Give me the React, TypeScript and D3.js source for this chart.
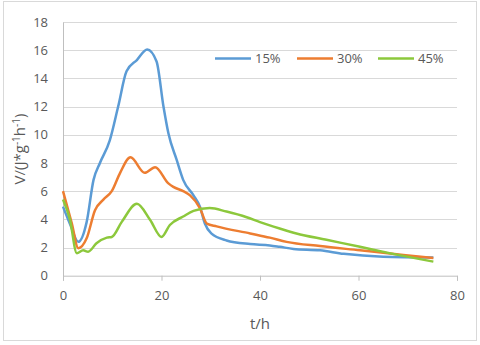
import React, { useEffect, useRef } from "react";
import * as d3 from "d3";

// hours and rates
const t15 = [0, 1.5, 3.1, 4.8, 6.2, 7.5, 9.5, 11.2, 12.9, 15, 17.1, 19, 20.4, 21.4, 23.1, 24.4, 26.5, 27.8, 28.8, 30.1, 33.2, 38, 42, 44, 46.8, 52.2, 57, 65, 75.2];
const v15 = [4.9, 3.6, 2.4, 3.8, 6.8, 8.0, 9.6, 12.0, 14.5, 15.3, 16.05, 15.2, 12.0, 10.1, 8.2, 6.8, 5.7, 4.9, 3.7, 3.0, 2.5, 2.25, 2.15, 2.05, 1.9, 1.8, 1.55, 1.35, 1.3];

const t30 = [0, 1.8, 3.1, 4.8, 6.5, 8.2, 9.9, 11.6, 13.7, 16.6, 18.7, 21.4, 22.4, 24.4, 25.8, 27.8, 29.2, 31.2, 38, 42, 45.4, 52.2, 60.3, 69.1, 75.2];
const v30 = [6.0, 3.7, 1.95, 2.65, 4.65, 5.4, 6.0, 7.3, 8.4, 7.3, 7.7, 6.55, 6.3, 6.0, 5.7, 4.8, 3.7, 3.5, 3.0, 2.7, 2.4, 2.1, 1.8, 1.47, 1.25];

const t45 = [0, 1.4, 2.8, 4.1, 5.1, 6.8, 8.9, 9.9, 11.9, 15, 17.7, 20, 21.7, 24.4, 26.5, 29.8, 33.2, 37.3, 40, 44, 47.4, 53.5, 60.3, 67, 75.2];
const v45 = [5.4, 4.0, 1.6, 1.8, 1.7, 2.3, 2.7, 2.75, 3.8, 5.1, 3.95, 2.75, 3.6, 4.2, 4.6, 4.8, 4.55, 4.15, 3.8, 3.35, 3.0, 2.55, 2.05, 1.55, 1.0];

const seriesNames = ["15%", "30%", "45%"];
const colors = ["#5b9bd5", "#ed7d31", "#8cc83c"];
const xTicks = [0, 20, 40, 60, 80];
const yTicks = [0, 2, 4, 6, 8, 10, 12, 14, 16, 18];

const W = 480;
const H = 345;
const font = "'Open Sans', sans-serif";

export default function App() {
  const ref = useRef<SVGSVGElement>(null);

  useEffect(() => {
    const svg = d3.select(ref.current);
    svg.selectAll("*").remove();

    const x = d3.scaleLinear().domain([0, 80]).range([63, 457]);
    const y = d3.scaleLinear().domain([0, 18]).range([275.7, 22]);

    // outer frame
    svg.append("rect")
      .attr("x", 3.5).attr("y", 1.5)
      .attr("width", 473).attr("height", 339)
      .attr("fill", "#fff").attr("stroke", "#d9d9d9");

    // gridlines
    svg.append("g")
      .selectAll("line")
      .data(yTicks.slice(1))
      .enter()
      .append("line")
      .attr("x1", x(0)).attr("x2", x(80))
      .attr("y1", (d) => Math.round(y(d)) + 0.5)
      .attr("y2", (d) => Math.round(y(d)) + 0.5)
      .attr("stroke", "#d9d9d9");

    // y axis
    const yAxis = svg.append("g")
      .attr("transform", `translate(${x(0)},0)`)
      .call(d3.axisLeft(y).tickValues(yTicks).tickSize(0).tickPadding(15));
    yAxis.select(".domain").attr("stroke", "#bfbfbf");
    yAxis.selectAll("text")
      .attr("fill", "#595959")
      .style("font-family", font)
      .style("font-size", "13px");

    // x axis
    const xAxis = svg.append("g")
      .attr("transform", `translate(0,${y(0)})`)
      .call(d3.axisBottom(x).tickValues(xTicks).tickSizeOuter(0).tickSize(5).tickPadding(10));
    xAxis.select(".domain").attr("stroke", "#bfbfbf");
    xAxis.selectAll("line").attr("stroke", "#bfbfbf");
    xAxis.selectAll("text")
      .attr("fill", "#595959")
      .style("font-family", font)
      .style("font-size", "13px");

    // lines
    const data = [
      t15.map((t, i) => [t, v15[i]]),
      t30.map((t, i) => [t, v30[i]]),
      t45.map((t, i) => [t, v45[i]]),
    ];
    const line = d3.line<number[]>()
      .x((d) => x(d[0]))
      .y((d) => y(d[1]))
      .curve(d3.curveMonotoneX);

    svg.append("g")
      .selectAll("path")
      .data(data)
      .enter()
      .append("path")
      .attr("d", (d) => line(d))
      .attr("fill", "none")
      .attr("stroke", (d, i) => colors[i])
      .attr("stroke-width", 2.5)
      .attr("stroke-linejoin", "round");

    // legend
    const legendX = [215, 297, 378];
    const lg = svg.append("g");
    seriesNames.forEach((name, i) => {
      lg.append("line")
        .attr("x1", legendX[i]).attr("x2", legendX[i] + 36)
        .attr("y1", 58.5).attr("y2", 58.5)
        .attr("stroke", colors[i]).attr("stroke-width", 2.5);
      lg.append("text")
        .attr("x", legendX[i] + 40).attr("y", 63)
        .attr("fill", "#595959")
        .style("font-family", font)
        .style("font-size", "13px")
        .text(name);
    });

    // axis titles
    svg.append("text")
      .attr("x", 260).attr("y", 329)
      .attr("text-anchor", "middle")
      .attr("fill", "#595959")
      .style("font-family", font)
      .style("font-size", "15px")
      .text("t/h");

    const yt = svg.append("text")
      .attr("transform", "translate(25,149) rotate(-90)")
      .attr("text-anchor", "middle")
      .attr("fill", "#595959")
      .style("font-family", font)
      .style("font-size", "15px");
    yt.append("tspan").text("V/(J*g");
    yt.append("tspan").attr("dy", -5).style("font-size", "10px").text("-1");
    yt.append("tspan").attr("dy", 5).text("h");
    yt.append("tspan").attr("dy", -5).style("font-size", "10px").text("-1");
    yt.append("tspan").attr("dy", 5).text(")");
  }, []);

  return (
    <svg
      ref={ref}
      width={W}
      height={H}
      style={{ position: "absolute", left: 0, top: 0, background: "#fff" }}
    />
  );
}
